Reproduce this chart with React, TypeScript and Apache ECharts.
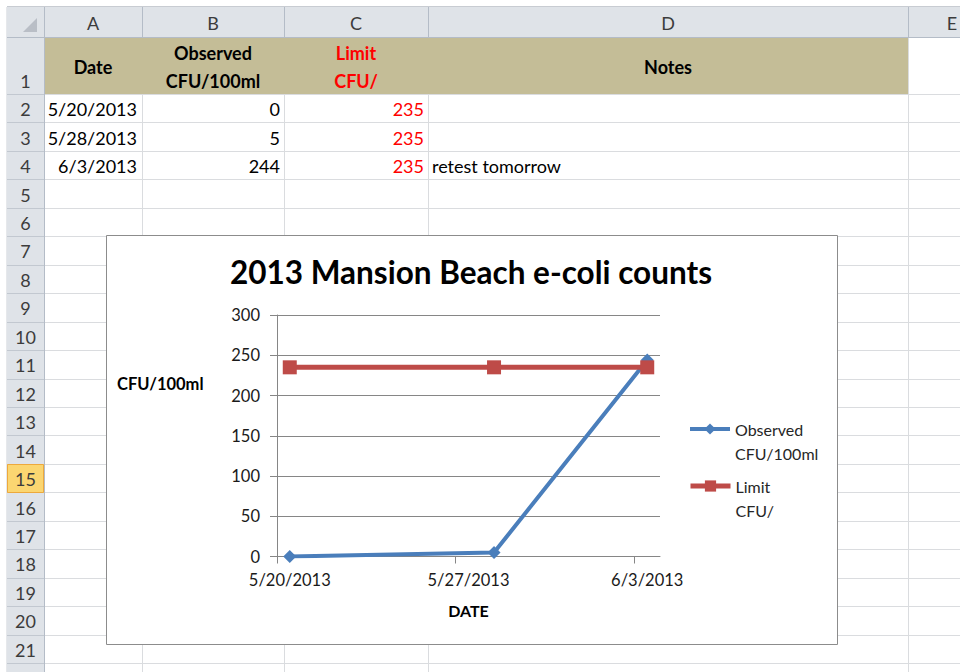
import React, { useEffect, useRef } from 'react';
import * as echarts from 'echarts';

// ---- data ----
const dates = ['5/20/2013', '5/28/2013', '6/3/2013'];
const observed = [0, 5, 244];
const limit = [235, 235, 235];
const notes = ['', '', 'retest tomorrow'];
const headerLabels = ['Date', 'Observed\nCFU/100ml', 'Limit\nCFU/', 'Notes'];
const seriesNames = ['Observed CFU/100ml', 'Limit CFU/'];
const xTickLabels = ['5/20/2013', '5/27/2013', '6/3/2013'];
const yMin = 0;
const yMax = 300;
const yStep = 50;
const chartTitle = '2013 Mansion Beach e-coli counts';
const yAxisTitle = 'CFU/100ml';
const xAxisTitle = 'DATE';
const columnLetters = ['A', 'B', 'C', 'D', 'E'];
const rowCount = 22;
const activeRow = 15;

// ---- helpers ----
const dayNum = (s: string) => {
  const [m, d, y] = s.split('/').map(Number);
  return Date.UTC(y, m - 1, d) / 86400000;
};
const base = dayNum(dates[0]);
const labelPos = xTickLabels.map((l) => dayNum(l) - base);
const tickPos = labelPos.map((v) => v - 0.5);
const xMin = dayNum(dates[0]) - base - 0.5;
const xMax = dayNum(dates[dates.length - 1]) - base + 0.5;

const FONT = 'Lato';
const colX = [44, 142, 284, 428, 908, 1000];
const HEAD_TOP = 7;
const HEAD_BOTTOM = 37;
const ROW1_BOTTOM = 94;
const ROW_H = 28.45;
const rowTop = (r: number) => (r === 1 ? HEAD_BOTTOM : ROW1_BOTTOM + (r - 2) * ROW_H);
const rowBottom = (r: number) => (r === 1 ? ROW1_BOTTOM : ROW1_BOTTOM + (r - 1) * ROW_H);

function buildSheet(): any[] {
  const Z = -20;
  const els: any[] = [];
  const hdrBg = '#DFE3E8';
  const hdrLine = '#B4BCC7';
  const grid = '#DADCDF';
  els.push({ type: 'rect', z: Z, shape: { x: 0, y: 0, width: 960, height: 672 }, style: { fill: '#ffffff' } });
  // tan header row
  els.push({ type: 'rect', z: Z, shape: { x: colX[0], y: HEAD_BOTTOM, width: colX[4] - colX[0], height: ROW1_BOTTOM - HEAD_BOTTOM }, style: { fill: '#C4BD97' } });
  // gridlines horizontal
  for (let r = 1; r <= rowCount; r++) {
    const y = Math.round(rowBottom(r)) + 0.5;
    if (y > 672) break;
    els.push({ type: 'line', z: Z, shape: { x1: colX[0], y1: y, x2: 960, y2: y }, style: { stroke: grid, lineWidth: 1 } });
  }
  // gridlines vertical
  for (let c = 1; c < colX.length - 1; c++) {
    const x = colX[c] + 0.5;
    const top = c === 4 ? HEAD_BOTTOM : ROW1_BOTTOM;
    els.push({ type: 'line', z: Z, shape: { x1: x, y1: top, x2: x, y2: 672 }, style: { stroke: grid, lineWidth: 1 } });
  }
  // column header bar
  els.push({ type: 'rect', z: Z, shape: { x: HEAD_TOP, y: HEAD_TOP, width: 960 - HEAD_TOP, height: HEAD_BOTTOM - HEAD_TOP }, style: { fill: hdrBg } });
  // row header column
  els.push({ type: 'rect', z: Z, shape: { x: HEAD_TOP, y: HEAD_BOTTOM, width: colX[0] - HEAD_TOP, height: 672 - HEAD_BOTTOM }, style: { fill: hdrBg } });
  // outer border lines
  els.push({ type: 'line', z: Z, shape: { x1: HEAD_TOP, y1: HEAD_TOP - 0.5, x2: 960, y2: HEAD_TOP - 0.5 }, style: { stroke: '#C8CCD2', lineWidth: 1 } });
  els.push({ type: 'line', z: Z, shape: { x1: HEAD_TOP - 0.5, y1: HEAD_TOP, x2: HEAD_TOP - 0.5, y2: 672 }, style: { stroke: '#E6E8EB', lineWidth: 1 } });
  // column header separators
  for (let c = 0; c < colX.length - 1; c++) {
    const x = colX[c] + 0.5;
    els.push({ type: 'line', z: Z, shape: { x1: x, y1: HEAD_TOP, x2: x, y2: HEAD_BOTTOM }, style: { stroke: hdrLine, lineWidth: 1 } });
  }
  els.push({ type: 'line', z: Z, shape: { x1: HEAD_TOP, y1: HEAD_BOTTOM + 0.5, x2: 960, y2: HEAD_BOTTOM + 0.5 }, style: { stroke: hdrLine, lineWidth: 1 } });
  els.push({ type: 'line', z: Z, shape: { x1: colX[0] + 0.5, y1: HEAD_TOP, x2: colX[0] + 0.5, y2: 672 }, style: { stroke: hdrLine, lineWidth: 1 } });
  // row header separators
  for (let r = 1; r <= rowCount; r++) {
    const y = Math.round(rowBottom(r)) + 0.5;
    if (y > 672) break;
    els.push({ type: 'line', z: Z, shape: { x1: HEAD_TOP, y1: y, x2: colX[0], y2: y }, style: { stroke: '#C2C8D0', lineWidth: 1 } });
  }
  // active row highlight
  els.push({
    type: 'rect', z: Z,
    shape: { x: HEAD_TOP + 0.5, y: Math.round(rowTop(activeRow)) + 0.5, width: colX[0] - HEAD_TOP - 1, height: Math.round(ROW_H) },
    style: { fill: '#FBD671', stroke: '#EDA93C', lineWidth: 1 },
  });
  // corner triangle
  els.push({ type: 'polygon', z: Z, shape: { points: [[23, 32], [37, 32], [37, 18]] }, style: { fill: '#B9BEC6' } });
  // column letters
  for (let c = 0; c < columnLetters.length; c++) {
    const cx = c < 4 ? (colX[c] + colX[c + 1]) / 2 : 952;
    els.push({ type: 'text', z: Z, x: cx, y: (HEAD_TOP + HEAD_BOTTOM) / 2 + 1, style: { text: columnLetters[c], font: `18px ${FONT}`, fill: '#3C3C3C', textAlign: 'center', textVerticalAlign: 'middle' } });
  }
  // row numbers
  for (let r = 1; r <= rowCount - 1; r++) {
    const y = r === 1 ? 81 : (rowTop(r) + rowBottom(r)) / 2 + 1;
    els.push({ type: 'text', z: Z, x: (HEAD_TOP + colX[0]) / 2, y, style: { text: String(r), font: `18px ${FONT}`, fill: '#3C3C3C', textAlign: 'center', textVerticalAlign: 'middle' } });
  }
  // header labels
  const headerColors = ['#000000', '#000000', '#FF0000', '#000000'];
  headerLabels.forEach((h, c) => {
    els.push({
      type: 'text', z: Z, x: (colX[c] + colX[c + 1]) / 2, y: 66.5,
      style: { text: h, font: `bold 18px ${FONT}`, fill: headerColors[c], textAlign: 'center', textVerticalAlign: 'middle', lineHeight: 28 },
    });
  });
  // data rows
  const st = (text: string, fill: string, align: string) => ({ text, font: `18px ${FONT}`, fill, textAlign: align, textVerticalAlign: 'middle' });
  dates.forEach((d, i) => {
    const r = i + 2;
    const cy = (rowTop(r) + rowBottom(r)) / 2 + 1;
    els.push({ type: 'text', z: Z, x: colX[1] - 5, y: cy, style: st(d, '#000000', 'right') });
    els.push({ type: 'text', z: Z, x: colX[2] - 4, y: cy, style: st(String(observed[i]), '#000000', 'right') });
    els.push({ type: 'text', z: Z, x: colX[3] - 4, y: cy, style: st(String(limit[i]), '#FF0000', 'right') });
    if (notes[i]) els.push({ type: 'text', z: Z, x: colX[3] + 4, y: cy, style: st(notes[i], '#000000', 'left') });
  });
  return els;
}

function buildOption(): any {
  const sheet = buildSheet();
  const chartBox = {
    type: 'rect', z: -15,
    shape: { x: 106.5, y: 235.5, width: 731, height: 409 },
    style: { fill: '#ffffff', stroke: '#8C8C8C', lineWidth: 1 },
  };
  const yName = {
    type: 'text', z: 5, x: 117, y: 384,
    style: { text: yAxisTitle, font: `bold 16.5px ${FONT}`, fill: '#000000', textAlign: 'left', textVerticalAlign: 'middle' },
  };
  const axisGray = '#868686';
  const textDark = '#1A1A1A';
  const colors = ['#4A7EBB', '#BE4B48'];
  const lineWidths = [4, 5];
  return {
    animation: false,
    color: colors,
    title: {
      text: chartTitle,
      left: 466,
      top: 251,
      textAlign: 'center',
      textStyle: { fontFamily: FONT, fontWeight: 'bold', fontSize: 31.5, color: '#000000' },
    },
    graphic: { elements: [...sheet, chartBox, yName] },
    legend: seriesNames.map((n, i) => ({
      data: [n],
      left: 688,
      top: [393, 450][i],
      orient: 'vertical',
      padding: 0,
      itemWidth: 40,
      itemHeight: 14,
      selectedMode: false,
      lineStyle: { width: lineWidths[i] },
      formatter: (name: string) => ' \n' + name.replace(' ', '\n'),
      textStyle: { fontFamily: FONT, fontSize: 16, color: '#262626', lineHeight: 24 },
    })),
    grid: { left: 277, top: 315, right: 300, bottom: 115.5 },
    xAxis: {
      type: 'value',
      min: xMin,
      max: xMax,
      axisLine: { show: true, onZero: false, lineStyle: { color: axisGray, width: 1 } },
      axisTick: { show: true, length: 7, customValues: tickPos, lineStyle: { color: axisGray } },
      axisLabel: {
        customValues: labelPos,
        margin: 15,
        fontFamily: FONT,
        fontSize: 16.5,
        color: textDark,
        formatter: (v: number) => {
          const idx = labelPos.findIndex((p) => Math.abs(p - v) < 1e-6);
          return idx >= 0 ? xTickLabels[idx] : '';
        },
      },
      splitLine: { show: false },
      name: xAxisTitle,
      nameLocation: 'middle',
      nameGap: 46,
      nameTextStyle: { fontFamily: FONT, fontWeight: 'bold', fontSize: 16, color: '#000000' },
    },
    yAxis: {
      type: 'value',
      min: yMin,
      max: yMax,
      interval: yStep,
      axisLine: { show: true, onZero: false, lineStyle: { color: axisGray, width: 1 } },
      axisTick: { show: true, length: 7, lineStyle: { color: axisGray } },
      axisLabel: { margin: 17, fontFamily: FONT, fontSize: 16.5, color: textDark },
      splitLine: { show: true, lineStyle: { color: axisGray, width: 1 } },
    },
    series: [
      {
        name: seriesNames[0],
        type: 'line',
        data: dates.map((d, i) => [dayNum(d) - base, observed[i]]),
        symbol: 'diamond',
        symbolSize: 13,
        lineStyle: { width: lineWidths[0], color: colors[0] },
        itemStyle: { color: colors[0] },
        z: 3,
      },
      {
        name: seriesNames[1],
        type: 'line',
        data: dates.map((d, i) => [dayNum(d) - base, limit[i]]),
        symbol: 'rect',
        symbolSize: 14,
        lineStyle: { width: lineWidths[1], color: colors[1] },
        itemStyle: { color: colors[1] },
        z: 4,
      },
    ],
  };
}

export default function App() {
  const ref = useRef<HTMLDivElement>(null);
  useEffect(() => {
    if (!ref.current) return;
    const chart = echarts.init(ref.current, undefined, { renderer: 'svg' });
    chart.setOption(buildOption());
    return () => chart.dispose();
  }, []);
  return <div ref={ref} style={{ position: 'fixed', left: 0, top: 0, width: 960, height: 672, background: '#fff' }} />;
}
